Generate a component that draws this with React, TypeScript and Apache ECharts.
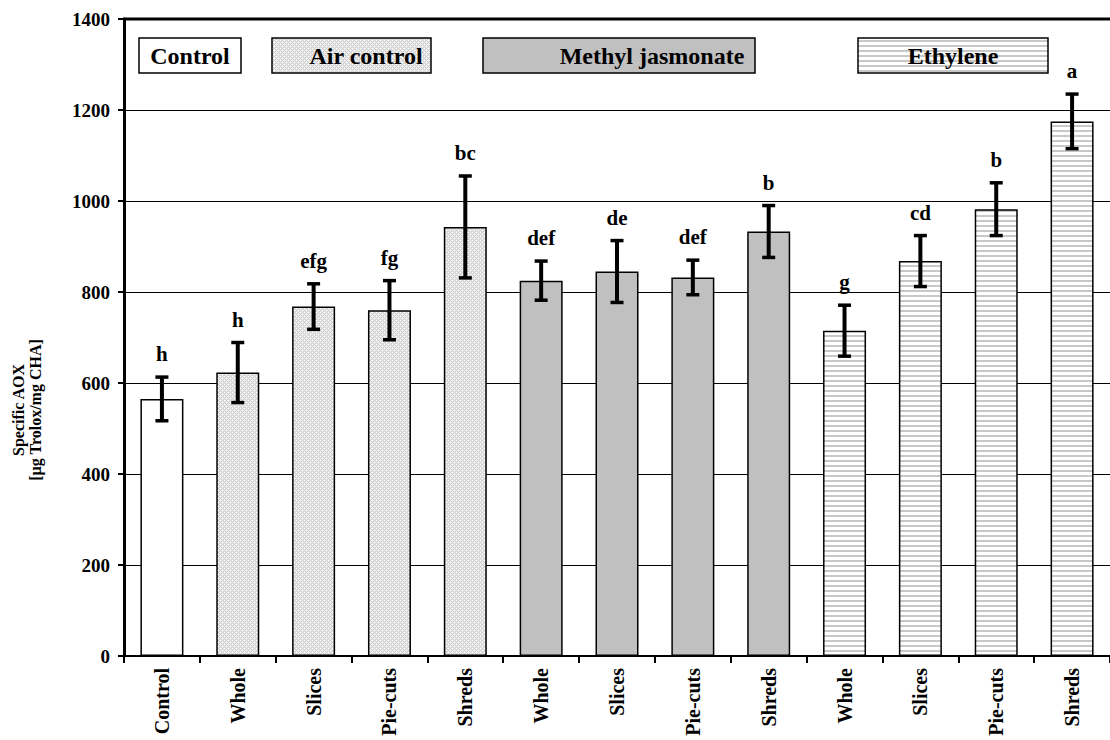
import React, { useEffect, useRef } from "react";
import * as echarts from "echarts";

// Cut types per treatment group
const categories = [
  "Control",
  "Whole", "Slices", "Pie-cuts", "Shreds",
  "Whole", "Slices", "Pie-cuts", "Shreds",
  "Whole", "Slices", "Pie-cuts", "Shreds",
];
const treatments = ["Control", "Air control", "Methyl jasmonate", "Ethylene"];
const treatmentOfBar = [0, 1, 1, 1, 1, 2, 2, 2, 2, 3, 3, 3, 3];
// Specific AOX, µg Trolox / mg CHA
const meanAOX = [565, 623, 768, 760, 943, 825, 845, 832, 933, 715, 868, 982, 1175];
const errorAOX = [48, 66, 50, 65, 112, 43, 68, 38, 57, 56, 56, 58, 60];
const letters = ["h", "h", "efg", "fg", "bc", "def", "de", "def", "b", "g", "cd", "b", "a"];

const SERIF = "'Liberation Serif', 'Times New Roman', serif";

function makeTile(w: number, h: number, draw: (ctx: CanvasRenderingContext2D) => void) {
  const c = document.createElement("canvas");
  c.width = w;
  c.height = h;
  const ctx = c.getContext("2d")!;
  draw(ctx);
  return { image: c, repeat: "repeat", imageWidth: w, imageHeight: h } as any;
}

function buildFills() {
  // light dotted mesh: white crosses on a pale grey lattice
  const mesh = makeTile(4, 4, (ctx) => {
    ctx.fillStyle = "#cfcfcf";
    ctx.fillRect(0, 0, 4, 4);
    ctx.fillStyle = "#e9e9e9";
    [[1, 0], [0, 1], [3, 0], [0, 3], [3, 2], [2, 1], [1, 2], [2, 3]].forEach(([x, y]) =>
      ctx.fillRect(x, y, 1, 1)
    );
    ctx.fillStyle = "#ffffff";
    ctx.fillRect(0, 0, 1, 1);
    ctx.fillRect(2, 2, 1, 1);
  });
  // horizontal stripes
  const stripes = makeTile(4, 5, (ctx) => {
    ctx.fillStyle = "#ffffff";
    ctx.fillRect(0, 0, 4, 5);
    ctx.fillStyle = "#c8c8c8";
    ctx.fillRect(0, 0, 4, 2);
  });
  return ["#ffffff", mesh, "#c0c0c0", stripes];
}

// legend boxes: [left, right, text centre]
const legendBoxes = [
  [139, 241, 190],
  [272, 431, 366],
  [483, 755, 652],
  [858, 1048, 953],
];

export default function App() {
  const ref = useRef<HTMLDivElement>(null);

  useEffect(() => {
    if (!ref.current) return;
    const chart = echarts.init(ref.current, null, { renderer: "svg" });
    const fills = buildFills();

    const barData = meanAOX.map((v, i) => ({
      value: v,
      itemStyle: { color: fills[treatmentOfBar[i]] },
    }));
    const errData = meanAOX.map((v, i) => [i, v - errorAOX[i], v + errorAOX[i]]);

    const legendGraphics: any[] = [];
    treatments.forEach((name, k) => {
      const [l, r, c] = legendBoxes[k];
      legendGraphics.push({
        type: "rect",
        shape: { x: l, y: 38, width: r - l, height: 35 },
        style: { fill: fills[k], stroke: "#000", lineWidth: 1.5 },
        z: 10,
      });
      legendGraphics.push({
        type: "text",
        x: c,
        y: 56,
        style: {
          text: name,
          fill: "#000",
          font: `bold 24px ${SERIF}`,
          align: "center",
          verticalAlign: "middle",
        },
        z: 11,
      });
    });

    chart.setOption({
      animation: false,
      backgroundColor: "#ffffff",
      grid: { left: 124, top: 19, width: 997, height: 637 },
      xAxis: {
        type: "category",
        data: categories,
        axisLine: { lineStyle: { color: "#000", width: 2 } },
        axisTick: { show: true, interval: 0, length: 7, lineStyle: { color: "#000", width: 2 } },
        axisLabel: {
          interval: 0,
          rotate: 90,
          margin: 12,
          color: "#000",
          fontFamily: SERIF,
          fontWeight: "bold",
          fontSize: 20,
        },
      },
      yAxis: {
        type: "value",
        min: 0,
        max: 1400,
        interval: 200,
        axisLine: { show: true, lineStyle: { color: "#000", width: 3 } },
        axisTick: { show: true, length: 6, lineStyle: { color: "#000", width: 2 } },
        axisLabel: {
          margin: 14,
          color: "#000",
          fontFamily: SERIF,
          fontWeight: "bold",
          fontSize: 19,
          formatter: (v: number) => String(v),
        },
        splitLine: { show: true, lineStyle: { color: "#000", width: 1 } },
      },
      series: [
        {
          type: "bar",
          data: barData,
          barWidth: 43,
          itemStyle: { borderColor: "#000", borderWidth: 1.5 },
          z: 2,
        },
        {
          type: "custom",
          data: errData,
          encode: { x: 0, y: [1, 2] },
          z: 5,
          renderItem: (params: any, api: any) => {
            const i = api.value(0);
            const lo = api.coord([i, api.value(1)]);
            const hi = api.coord([i, api.value(2)]);
            const x = hi[0];
            const cap = 6.5;
            const st = { stroke: "#000", lineWidth: 3.5 };
            return {
              type: "group",
              children: [
                { type: "line", shape: { x1: x, y1: hi[1], x2: x, y2: lo[1] }, style: { stroke: "#000", lineWidth: 4 } },
                { type: "line", shape: { x1: x - cap, y1: hi[1], x2: x + cap, y2: hi[1] }, style: st },
                { type: "line", shape: { x1: x - cap, y1: lo[1], x2: x + cap, y2: lo[1] }, style: st },
                {
                  type: "text",
                  x: x,
                  y: hi[1] - 23,
                  style: {
                    text: letters[i],
                    fill: "#000",
                    font: `bold 21px ${SERIF}`,
                    align: "center",
                    verticalAlign: "middle",
                  },
                },
              ],
            };
          },
        },
      ],
      graphic: [
        {
          type: "line",
          shape: { x1: 123, y1: 19, x2: 1110, y2: 19 },
          style: { stroke: "#000", lineWidth: 3 },
          z: 10,
        },
        {
          type: "text",
          x: 18,
          y: 410,
          rotation: Math.PI / 2,
          style: {
            text: "Specific AOX",
            fill: "#000",
            font: `bold 16px ${SERIF}`,
            align: "center",
            verticalAlign: "middle",
          },
        },
        {
          type: "text",
          x: 35,
          y: 410,
          rotation: Math.PI / 2,
          style: {
            text: "[µg Trolox/mg CHA]",
            fill: "#000",
            font: `bold 16px ${SERIF}`,
            align: "center",
            verticalAlign: "middle",
          },
        },
        ...legendGraphics,
      ],
    });

    return () => chart.dispose();
  }, []);

  return (
    <div
      ref={ref}
      style={{ position: "absolute", left: 0, top: 0, width: 1110, height: 740, background: "#fff" }}
    />
  );
}
